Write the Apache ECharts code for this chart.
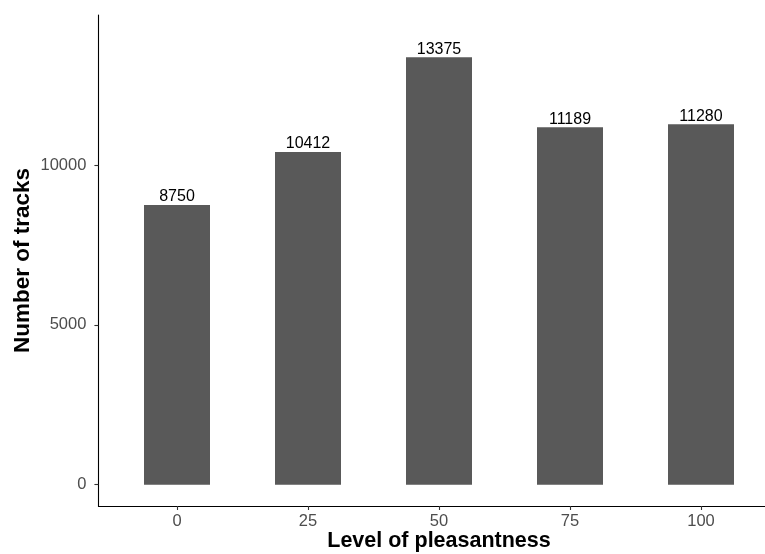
<!DOCTYPE html>
<html>
<head>
<meta charset="utf-8">
<script src="https://cdn.jsdelivr.net/npm/echarts@6/dist/echarts.min.js"></script>
<style>
html,body{margin:0;padding:0;background:#fff;}
#chart{width:765px;height:554px;}
</style>
</head>
<body>
<div id="chart"></div>
<script>
var categories = [0, 25, 50, 75, 100];
var counts = [8750, 10412, 13375, 11189, 11280];
var yTicks = [0, 5000, 10000];

var FONT = '"Liberation Sans", Arial, sans-serif';
var chart = echarts.init(document.getElementById('chart'), null, {renderer: 'canvas'});
var barData = categories.map(function (c, i) { return [c, counts[i]]; });

chart.setOption({
  animation: false,
  backgroundColor: '#ffffff',
  grid: {left: 98.4, right: -14.6, top: 15, bottom: 48, containLabel: false, outerBoundsMode: 'none'},
  xAxis: {
    type: 'value',
    min: -15,
    max: 115,
    name: 'Level of pleasantness',
    nameLocation: 'middle',
    nameGap: 24,
    nameMoveOverlap: false,
    nameTextStyle: {fontFamily: FONT, fontSize: 21.5, fontWeight: 'bold', color: '#000', verticalAlign: 'top'},
    splitLine: {show: false},
    axisLine: {show: true, onZero: false, lineStyle: {color: '#000', width: 1.1}},
    axisTick: {show: true, length: 4, customValues: categories, lineStyle: {color: '#333', width: 1.1}},
    axisLabel: {show: true, customValues: categories, margin: 7, fontFamily: FONT, fontSize: 16.5, color: '#4d4d4d',
      formatter: function (v) { return String(v); }}
  },
  yAxis: {
    type: 'value',
    min: -668.75,
    max: 14700,
    name: 'Number of tracks',
    nameLocation: 'middle',
    nameGap: 64,
    nameMoveOverlap: false,
    nameRotate: 90,
    nameTextStyle: {fontFamily: FONT, fontSize: 22.5, fontWeight: 'bold', color: '#000'},
    splitLine: {show: false},
    axisLine: {show: true, onZero: false, lineStyle: {color: '#000', width: 1.1}},
    axisTick: {show: true, length: 4, customValues: yTicks, lineStyle: {color: '#333', width: 1.1}},
    axisLabel: {show: true, customValues: yTicks, margin: 12, fontFamily: FONT, fontSize: 16.5, color: '#4d4d4d',
      formatter: function (v) { return String(v); }}
  },
  series: [{
    type: 'bar',
    data: barData,
    barWidth: 66,
    itemStyle: {color: '#595959'},
    label: {
      show: true,
      position: 'top',
      distance: 0,
      fontFamily: FONT,
      fontSize: 16,
      color: '#000',
      formatter: function (p) { return String(p.value[1]); }
    }
  }]
});
</script>
</body>
</html>
